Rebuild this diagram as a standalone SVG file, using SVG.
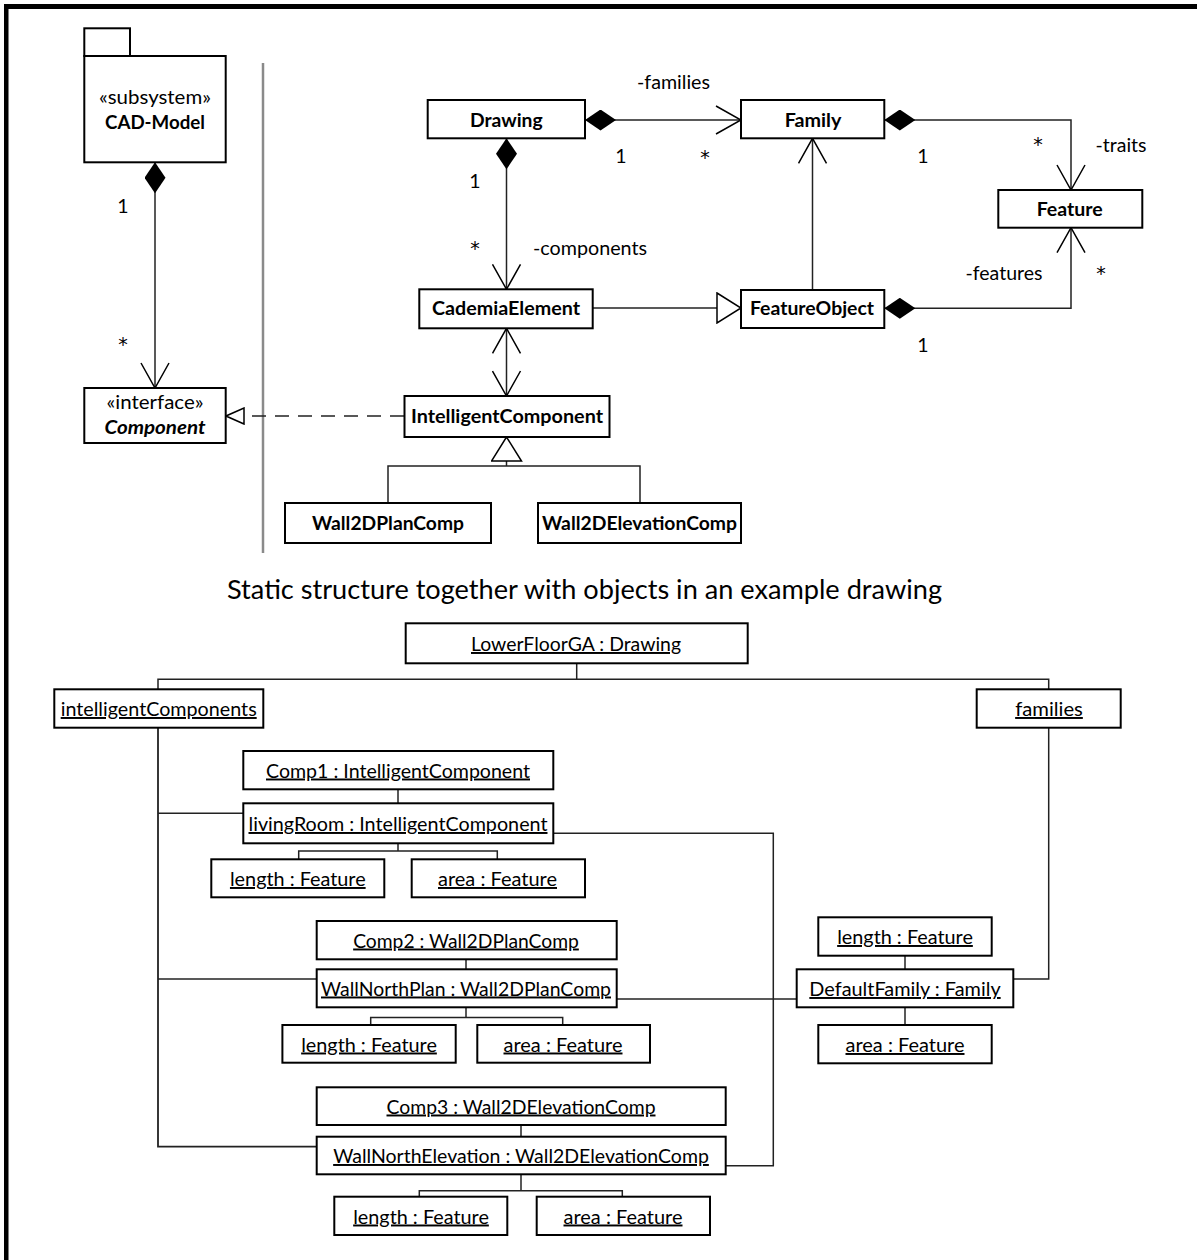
<svg xmlns="http://www.w3.org/2000/svg" width="1197" height="1260" viewBox="0 0 1197 1260">
  <style>
    .t { font-family: Lato, "Open Sans", "DejaVu Sans", sans-serif; font-size: 19.5px; fill: #000; text-anchor: middle; }
    .star { font-family: "DejaVu Sans", sans-serif; font-size: 19px; }
    .b { font-weight: bold; }
    .i { font-style: italic; }
    .u { text-decoration: underline; }
    .ttl { font-size: 26.5px; }
    .box { fill: #fff; stroke: #000; stroke-width: 2; }
    .ln { fill: none; stroke: #222; stroke-width: 1.5; }
    .dash { stroke-dasharray: 14 9; }
    .sep { fill: none; stroke: #8a8a8a; stroke-width: 2.5; }
    .mk-open { fill: none; stroke: #000; stroke-width: 1.5; stroke-dasharray: none; }
    .mk-fill { fill: #000; stroke: none; }
    .mk-hollow { fill: #fff; stroke: #000; stroke-width: 1.5; stroke-dasharray: none; }
  </style>
  <defs>
    <!-- navigable association end -->
    <marker id="open" viewBox="-1 -1 27 30" refX="25" refY="14" markerWidth="27" markerHeight="30" markerUnits="userSpaceOnUse" orient="auto-start-reverse">
      <path class="mk-open" d="M0,0 L25,14 L0,28"/>
    </marker>
    <!-- composition end -->
    <marker id="diamond" viewBox="0 0 31 21" refX="0" refY="10.5" markerWidth="31" markerHeight="21" markerUnits="userSpaceOnUse" orient="auto">
      <path class="mk-fill" d="M0,10.5 L15.5,0 L31,10.5 L15.5,21 Z"/>
    </marker>
    <!-- generalization end -->
    <marker id="tri" viewBox="-1 -1 26 32" refX="24" refY="15" markerWidth="26" markerHeight="32" markerUnits="userSpaceOnUse" orient="auto">
      <path class="mk-hollow" d="M0,0 L24,15 L0,30 Z"/>
    </marker>
    <!-- realization end -->
    <marker id="tri-s" viewBox="-1 -1 20 18" refX="18" refY="8" markerWidth="20" markerHeight="18" markerUnits="userSpaceOnUse" orient="auto">
      <path class="mk-hollow" d="M0,0 L18,8 L0,16 Z"/>
    </marker>
  </defs>

  <rect width="1197" height="1260" fill="#fff"/>

  <!-- outer frame (top and left edges) -->
  <g id="frame">
    <rect x="4" y="4" width="1193" height="5" fill="#000"/>
    <rect x="4" y="4" width="4.5" height="1256" fill="#000"/>
  </g>

  <!-- separator between subsystem view and class view -->
  <line class="sep" x1="263" y1="63" x2="263" y2="553"/>

  <!-- ===== class diagram: connectors ===== -->
  <g id="connectors">
    <path class="ln" d="M155,162.3 V388" marker-start="url(#diamond)" marker-end="url(#open)"/>
    <path class="ln" d="M585,120 H741" marker-start="url(#diamond)" marker-end="url(#open)"/>
    <path class="ln" d="M506.5,138.3 V289.3" marker-start="url(#diamond)" marker-end="url(#open)"/>
    <path class="ln" d="M884.3,120 H1071 V190" marker-start="url(#diamond)" marker-end="url(#open)"/>
    <path class="ln" d="M884.3,308.3 H1071 V227.7" marker-start="url(#diamond)" marker-end="url(#open)"/>
    <path class="ln" d="M812.5,290 V138.3" marker-end="url(#open)"/>
    <path class="ln" d="M592.7,308 H741" marker-end="url(#tri)"/>
    <path class="ln" d="M506.5,328.3 V396" marker-start="url(#open)" marker-end="url(#open)"/>
    <path class="ln dash" d="M404,416 H226" marker-end="url(#tri-s)"/>
    <path class="ln" d="M506.5,466 V437" marker-end="url(#tri)"/>
    <path class="ln" d="M388,503 V466 H640 V503"/>
  </g>

  <!-- ===== class diagram: nodes ===== -->
  <g id="cad-model">
    <rect class="box" x="84.3" y="28.3" width="45.7" height="27.7"/>
    <rect class="box" x="84.3" y="56" width="141.4" height="106.3"/>
    <text class="t" x="155" y="103.5" textLength="112" lengthAdjust="spacingAndGlyphs">«subsystem»</text>
    <text class="t b" x="155" y="129" textLength="100" lengthAdjust="spacingAndGlyphs">CAD-Model</text>
  </g>
  <g id="component">
    <rect class="box" x="84.3" y="388" width="141.4" height="55"/>
    <text class="t" x="155" y="409" textLength="97" lengthAdjust="spacingAndGlyphs">«interface»</text>
    <text class="t b i" x="155" y="434" textLength="101" lengthAdjust="spacingAndGlyphs">Component</text>
  </g>
  <g id="drawing">
    <rect class="box" x="427.7" y="100" width="157.3" height="38.3"/>
    <text class="t b" x="506.3" y="127" textLength="72.7" lengthAdjust="spacingAndGlyphs">Drawing</text>
  </g>
  <g id="family">
    <rect class="box" x="741" y="100" width="143.3" height="38.3"/>
    <text class="t b" x="813" y="127" textLength="56.7" lengthAdjust="spacingAndGlyphs">Family</text>
  </g>
  <g id="feature">
    <rect class="box" x="998.3" y="190" width="144" height="37.7"/>
    <text class="t b" x="1069.7" y="215.5" textLength="66" lengthAdjust="spacingAndGlyphs">Feature</text>
  </g>
  <g id="cademia-element">
    <rect class="box" x="419.3" y="289.3" width="173.4" height="39"/>
    <text class="t b" x="506" y="315" textLength="148" lengthAdjust="spacingAndGlyphs">CademiaElement</text>
  </g>
  <g id="feature-object">
    <rect class="box" x="741" y="290" width="143.3" height="38"/>
    <text class="t b" x="812" y="315" textLength="124" lengthAdjust="spacingAndGlyphs">FeatureObject</text>
  </g>
  <g id="intelligent-component">
    <rect class="box" x="404.5" y="396" width="205" height="41"/>
    <text class="t b" x="507" y="423" textLength="192" lengthAdjust="spacingAndGlyphs">IntelligentComponent</text>
  </g>
  <g id="wall2d-plan-comp">
    <rect class="box" x="285" y="503" width="206" height="40"/>
    <text class="t b" x="388" y="530" textLength="152" lengthAdjust="spacingAndGlyphs">Wall2DPlanComp</text>
  </g>
  <g id="wall2d-elevation-comp">
    <rect class="box" x="538" y="503" width="203" height="40"/>
    <text class="t b" x="639.5" y="530" textLength="195" lengthAdjust="spacingAndGlyphs">Wall2DElevationComp</text>
  </g>

  <!-- association end labels -->
  <g id="end-labels">
    <text class="t" x="123" y="213">1</text>
    <text class="t star" x="123" y="351">*</text>
    <text class="t" x="673.5" y="89" textLength="73" lengthAdjust="spacingAndGlyphs">-families</text>
    <text class="t" x="621" y="163">1</text>
    <text class="t star" x="705" y="164">*</text>
    <text class="t" x="475" y="188">1</text>
    <text class="t star" x="475" y="255">*</text>
    <text class="t" x="590" y="255" textLength="114" lengthAdjust="spacingAndGlyphs">-components</text>
    <text class="t star" x="1038" y="151">*</text>
    <text class="t" x="1121" y="152" textLength="51" lengthAdjust="spacingAndGlyphs">-traits</text>
    <text class="t" x="923" y="163">1</text>
    <text class="t" x="1004" y="280" textLength="77" lengthAdjust="spacingAndGlyphs">-features</text>
    <text class="t star" x="1101" y="280">*</text>
    <text class="t" x="923" y="352">1</text>
  </g>

  <!-- ===== object diagram ===== -->
  <text id="caption" class="t ttl" x="584.5" y="599" textLength="715" lengthAdjust="spacingAndGlyphs">Static structure together with objects in an example drawing</text>

  <g id="object-links">
    <path class="ln" d="M576.7,663.3 V679.3"/>
    <path class="ln" d="M158,689.3 V679.3 H1048.7 V689.3"/>
    <path class="ln" d="M158,727.7 V1146.7 H316.7" style="stroke-width:1.8"/>
    <path class="ln" d="M158,813.3 H243.3"/>
    <path class="ln" d="M158,979 H316.7"/>
    <path class="ln" d="M398,789.3 V803.3"/>
    <path class="ln" d="M398,843.3 V851"/>
    <path class="ln" d="M298.7,859.3 V851 H497.3 V859.3"/>
    <path class="ln" d="M553.3,833.3 H773.3 V1165.7 H725.7"/>
    <path class="ln" d="M466,959.3 V969.3"/>
    <path class="ln" d="M466,1007.3 V1017.5"/>
    <path class="ln" d="M370.7,1025 V1017.5 H562.7 V1025"/>
    <path class="ln" d="M616.7,999 H796.7"/>
    <path class="ln" d="M521,1125 V1136.7"/>
    <path class="ln" d="M521,1174.3 V1190.7"/>
    <path class="ln" d="M419.3,1196.7 V1190.7 H622.3 V1196.7"/>
    <path class="ln" d="M1048.7,727.7 V979 H1013.3"/>
    <path class="ln" d="M905,955.7 V969.3"/>
    <path class="ln" d="M905,1007.3 V1025"/>
  </g>

  <g id="lowerfloorga">
    <rect class="box" x="405.7" y="623.3" width="342" height="40"/>
    <text class="t u" x="576" y="651" textLength="210" lengthAdjust="spacingAndGlyphs">LowerFloorGA : Drawing</text>
  </g>
  <g id="intelligent-components">
    <rect class="box" x="54.3" y="689.3" width="209" height="38.4"/>
    <text class="t u" x="158.7" y="716" textLength="196" lengthAdjust="spacingAndGlyphs">intelligentComponents</text>
  </g>
  <g id="families">
    <rect class="box" x="976.7" y="689.3" width="144" height="38.4"/>
    <text class="t u" x="1049" y="716" textLength="67.7" lengthAdjust="spacingAndGlyphs">families</text>
  </g>
  <g id="comp1">
    <rect class="box" x="243.3" y="751" width="310" height="38.3"/>
    <text class="t u" x="398" y="777.5" textLength="264" lengthAdjust="spacingAndGlyphs">Comp1 : IntelligentComponent</text>
  </g>
  <g id="living-room">
    <rect class="box" x="243.3" y="803.3" width="310" height="40"/>
    <text class="t u" x="398" y="831" textLength="299" lengthAdjust="spacingAndGlyphs">livingRoom : IntelligentComponent</text>
  </g>
  <g id="living-room-length">
    <rect class="box" x="211.3" y="859.3" width="173" height="38"/>
    <text class="t u" x="297.8" y="886" textLength="135.7" lengthAdjust="spacingAndGlyphs">length : Feature</text>
  </g>
  <g id="living-room-area">
    <rect class="box" x="411.7" y="859.3" width="173.3" height="38"/>
    <text class="t u" x="497.5" y="886" textLength="119" lengthAdjust="spacingAndGlyphs">area : Feature</text>
  </g>
  <g id="comp2">
    <rect class="box" x="316.7" y="921" width="300" height="38.3"/>
    <text class="t u" x="466" y="947.5" textLength="225.7" lengthAdjust="spacingAndGlyphs">Comp2 : Wall2DPlanComp</text>
  </g>
  <g id="wall-north-plan">
    <rect class="box" x="316.7" y="969.3" width="300" height="38"/>
    <text class="t u" x="466" y="995.5" textLength="290" lengthAdjust="spacingAndGlyphs">WallNorthPlan : Wall2DPlanComp</text>
  </g>
  <g id="wall-north-plan-length">
    <rect class="box" x="282.4" y="1025" width="173.3" height="37.7"/>
    <text class="t u" x="369" y="1051.5" textLength="135.7" lengthAdjust="spacingAndGlyphs">length : Feature</text>
  </g>
  <g id="wall-north-plan-area">
    <rect class="box" x="477.3" y="1025" width="172.7" height="37.7"/>
    <text class="t u" x="563" y="1051.5" textLength="119" lengthAdjust="spacingAndGlyphs">area : Feature</text>
  </g>
  <g id="comp3">
    <rect class="box" x="316.7" y="1087.3" width="409" height="37.7"/>
    <text class="t u" x="521" y="1113.5" textLength="269" lengthAdjust="spacingAndGlyphs">Comp3 : Wall2DElevationComp</text>
  </g>
  <g id="wall-north-elevation">
    <rect class="box" x="316.7" y="1136.7" width="409" height="37.6"/>
    <text class="t u" x="521" y="1163" textLength="375.7" lengthAdjust="spacingAndGlyphs">WallNorthElevation : Wall2DElevationComp</text>
  </g>
  <g id="wall-north-elevation-length">
    <rect class="box" x="334.3" y="1196.7" width="173" height="38.3"/>
    <text class="t u" x="421" y="1223.5" textLength="135.7" lengthAdjust="spacingAndGlyphs">length : Feature</text>
  </g>
  <g id="wall-north-elevation-area">
    <rect class="box" x="536.7" y="1196.7" width="173.3" height="38.3"/>
    <text class="t u" x="623" y="1223.5" textLength="119" lengthAdjust="spacingAndGlyphs">area : Feature</text>
  </g>
  <g id="default-family-length">
    <rect class="box" x="818.3" y="917.3" width="173.4" height="38.4"/>
    <text class="t u" x="905" y="944" textLength="135.7" lengthAdjust="spacingAndGlyphs">length : Feature</text>
  </g>
  <g id="default-family">
    <rect class="box" x="796.7" y="969.3" width="216.6" height="38"/>
    <text class="t u" x="905" y="996" textLength="191.3" lengthAdjust="spacingAndGlyphs">DefaultFamily : Family</text>
  </g>
  <g id="default-family-area">
    <rect class="box" x="818.3" y="1025" width="173.4" height="38.3"/>
    <text class="t u" x="905" y="1052" textLength="119" lengthAdjust="spacingAndGlyphs">area : Feature</text>
  </g>
</svg>
